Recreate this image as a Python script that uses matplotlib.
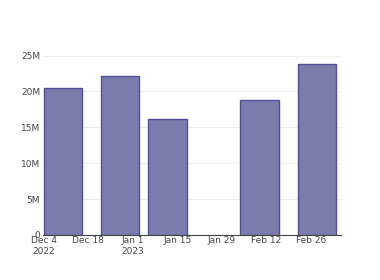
import pandas as pd
import matplotlib.pyplot as plt
import matplotlib.dates as mdates
import numpy as np

# bar data
dates = pd.to_datetime(["2022-12-10", "2022-12-28", "2023-01-12", "2023-02-10", "2023-02-28"])
values = [20.5e6, 22.2e6, 16.2e6, 18.8e6, 23.8e6]

tick_dates = pd.to_datetime(["2022-12-04", "2022-12-18", "2023-01-01", "2023-01-15",
                             "2023-01-29", "2023-02-12", "2023-02-26"])
tick_labels = ["Dec 4\n2022", "Dec 18", "Jan 1\n2023", "Jan 15", "Jan 29", "Feb 12", "Feb 26"]
y_ticks = [0, 5e6, 10e6, 15e6, 20e6, 25e6]
y_labels = ["0", "5M", "10M", "15M", "20M", "25M"]

fig = plt.figure(figsize=(3.8, 2.8), dpi=100)
ax = fig.add_axes([0.113, 0.161, 0.784, 0.643])

width = 12.2  # days
ax.bar(dates, values, width=width, color='#7b7bad', edgecolor='#4f4f9c', linewidth=1.0, zorder=3)

ax.set_xlim(dates[0] - pd.Timedelta(days=width / 2 + 0.2), dates[-1] + pd.Timedelta(days=width / 2 + 1.4))
ax.set_ylim(0, 25.1e6)

ax.set_xticks(tick_dates)
ax.set_xticklabels(tick_labels)
ax.set_yticks(y_ticks)
ax.set_yticklabels(y_labels)

ax.tick_params(axis='both', labelsize=6.5, colors='#444444', length=0, pad=2)
ax.tick_params(axis='x', pad=1)
for lbl in ax.get_xticklabels():
    lbl.set_horizontalalignment('center')

ax.grid(True, axis='y', color='#eeeeee', linewidth=0.8, zorder=0)
for side in ['top', 'right', 'left']:
    ax.spines[side].set_visible(False)
ax.spines['bottom'].set_color('#444444')
ax.spines['bottom'].set_linewidth(0.8)

plt.savefig("out.png", dpi=100)
